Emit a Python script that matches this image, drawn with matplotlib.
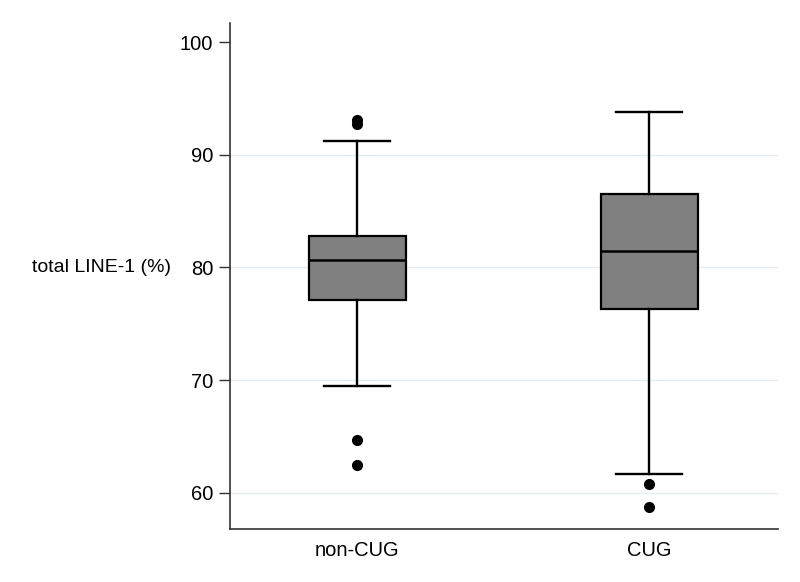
import matplotlib
matplotlib.use("Agg")
import matplotlib.pyplot as plt

# Данные
groups = ["non-CUG", "CUG"]
q1 = [77.1, 76.3]
med = [80.7, 81.5]
q3 = [82.8, 86.5]
whislo = [69.45, 61.65]
whishi = [91.25, 93.8]
outliers_noncug = [93.1, 92.7, 64.65, 62.5]
outliers_cug = [60.75, 58.7]
yticks = [60, 70, 80, 90, 100]

plt.rcParams['font.family'] = ['Liberation Sans', 'DejaVu Sans']

stats = []
for i, name in enumerate(groups):
    stats.append({
        'label': name,
        'q1': q1[i], 'med': med[i], 'q3': q3[i],
        'whislo': whislo[i], 'whishi': whishi[i],
        'fliers': [outliers_noncug, outliers_cug][i],
    })

fig = plt.figure(figsize=(8, 5.82), dpi=100)
ax = fig.add_axes([0.2875, 0.0911, 0.685, 0.8694])

ax.bxp(stats, positions=[1, 2], widths=0.332, patch_artist=True,
       showfliers=True, capwidths=0.226,
       boxprops=dict(facecolor='#808080', edgecolor='black', linewidth=1.6),
       medianprops=dict(color='black', linewidth=1.8),
       whiskerprops=dict(color='black', linewidth=1.7),
       capprops=dict(color='black', linewidth=1.7),
       flierprops=dict(marker='o', markerfacecolor='black',
                       markeredgecolor='black', markersize=7))

ax.set_xlim(0.565, 2.441)
ax.set_ylim(56.78, 101.7)
ax.set_yticks(yticks)
ax.set_yticklabels([str(t) for t in yticks], fontsize=14.5)
ax.tick_params(axis='y', length=8, width=1, color='#333333', pad=4)
ax.tick_params(axis='x', length=0, labelsize=14.5, pad=9)

# Сетка только 60–90
for t in yticks[:-1]:
    ax.axhline(t, color='#e6edf0', linewidth=1, zorder=0)

for s in ['top', 'right']:
    ax.spines[s].set_visible(False)
for s in ['left', 'bottom']:
    ax.spines[s].set_color('#333333')
    ax.spines[s].set_linewidth(1.2)

ax.set_ylabel('total LINE-1 (%)', fontsize=14, rotation=0, ha='right', va='center')
ax.yaxis.set_label_coords(-0.108, (80 - 56.78) / (101.7 - 56.78))

fig.savefig('out.png', dpi=100)
